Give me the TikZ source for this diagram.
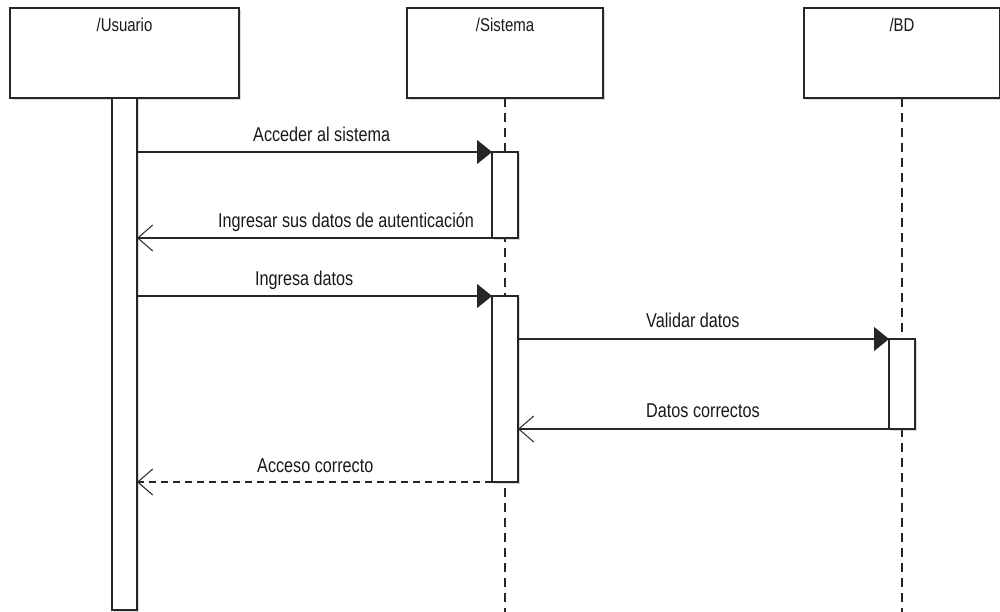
\documentclass[tikz,border=0pt]{standalone}
\usepackage{fontspec}
\setmainfont{Liberation Sans}[FakeStretch=0.81]
\usetikzlibrary{arrows.meta,shadows}
\begin{document}
\begin{tikzpicture}[x=1pt,y=-1pt,
  shade/.style={drop shadow={shadow xshift=2pt,shadow yshift=-2pt,opacity=0.25,fill=black!60}},
  actor/.style={draw=black!85,line width=1.2pt,fill=white,inner sep=0pt,outer sep=0pt,shade},
  actbar/.style={draw=black!85,line width=1.1pt,fill=white,inner sep=0pt,outer sep=0pt,minimum width=26pt,shade},
  lifeline/.style={draw=black!85,line width=1.1pt,dash pattern=on 9pt off 6pt},
  hdr/.style={anchor=base,inner sep=0pt,text=black!90,font=\fontsize{18.5}{22}\selectfont},
  msglabel/.style={anchor=base west,inner sep=0pt,text=black!90,font=\fontsize{20}{24}\selectfont},
  sync/.style={draw=black!85,line width=1.2pt,-{Triangle[length=15pt,width=24pt]}},
  reply/.style={draw=black!85,line width=1.2pt,-{Straight Barb[length=15pt,width=26pt,line width=1pt]}},
  retdash/.style={reply,dash pattern=on 7pt off 5pt}]
\useasboundingbox (0,0) rectangle (1000,612);

% participants
\node[actor,minimum width=229pt,minimum height=90pt] (usr) at (124.5,53) {};
\node[actor,minimum width=196pt,minimum height=90pt] (sys) at (505,53) {};
\node[actor,minimum width=196pt,minimum height=90pt] (bd)  at (902,53) {};
\node[hdr] (usrlbl) at (124.5,32) {/Usuario};
\node[hdr] (syslbl) at (505,32) {/Sistema};
\node[hdr] (bdlbl)  at (902,32) {/BD};

% lifelines
\coordinate (sysend) at (505,612);
\coordinate (bdend)  at (902,612);
\draw[lifeline] (sys.south) -- (sysend);
\draw[lifeline] (bd.south) -- (bdend);

% activation bars
\node[actbar,minimum width=25pt,minimum height=512pt] (usrbar) at (124.5,354) {};
\node[actbar,minimum height=86pt]  (sysA1) at (505,195) {};
\node[actbar,minimum height=186pt] (sysA2) at (505,389) {};
\node[actbar,minimum height=90pt]  (bdA)   at (902,384) {};

% messages
\draw[sync] (usrbar.east |- sysA1.north west) -- (sysA1.north west);
\node[msglabel] (m1) at (253,141.5) {Acceder al sistema};

\draw[reply] (sysA1.south west) -- (usrbar.east |- sysA1.south west);
\node[msglabel] (m2) at (218,227.5) {Ingresar sus datos de autenticación};

\draw[sync] (usrbar.east |- sysA2.north west) -- (sysA2.north west);
\node[msglabel] (m3) at (255,285) {Ingresa datos};

\draw[sync] (sysA2.east |- bdA.north west) -- (bdA.north west);
\node[msglabel] (m4) at (646,327.5) {Validar datos};

\draw[reply] (bdA.south west) -- (sysA2.east |- bdA.south west);
\node[msglabel] (m5) at (646,417.5) {Datos correctos};

\draw[retdash] (sysA2.south west) -- (usrbar.east |- sysA2.south west);
\node[msglabel] (m6) at (257,472) {Acceso correcto};
\end{tikzpicture}
\end{document}
